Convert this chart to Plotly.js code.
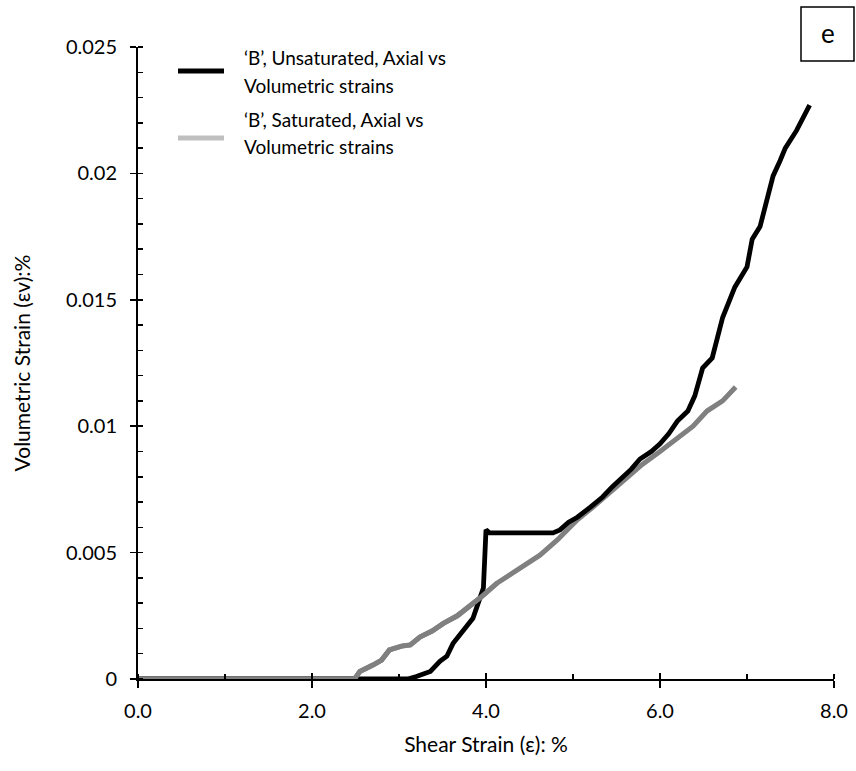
<!DOCTYPE html>
<html>
<head>
<meta charset="utf-8">
<script src="https://cdn.plot.ly/plotly-3.0.1.min.js"></script>
<style>html,body{margin:0;padding:0;background:#fff;}#chart{width:856px;height:771px;}</style>
</head>
<body>
<div id="chart"></div>
<script>
// Unsaturated 'B' (black)
const unsatX = [0, 3.1, 3.2, 3.3, 3.36, 3.47, 3.55, 3.62, 3.74, 3.85, 3.93, 3.97, 4.0, 4.04, 4.77, 4.85, 4.95, 5.05, 5.2, 5.34, 5.45, 5.57, 5.67, 5.77, 5.9, 6.0, 6.1, 6.2, 6.32, 6.4, 6.49, 6.6, 6.72, 6.86, 7.0, 7.06, 7.15, 7.24, 7.3, 7.38, 7.44, 7.57, 7.72];
const unsatY = [0, 0, 0.0001, 0.00025, 0.0003, 0.0007, 0.0009, 0.0014, 0.0019, 0.0024, 0.0032, 0.0036, 0.0059, 0.00578, 0.00578, 0.0059, 0.0062, 0.0064, 0.0068, 0.0072, 0.0076, 0.0080, 0.0083, 0.0087, 0.0090, 0.0093, 0.0097, 0.0102, 0.0106, 0.0112, 0.0123, 0.0127, 0.0143, 0.0155, 0.0163, 0.0174, 0.0179, 0.0191, 0.0199, 0.0205, 0.0210, 0.0217, 0.0227];
// Saturated 'B' (grey)
const satX = [0, 2.49, 2.55, 2.62, 2.70, 2.80, 2.84, 2.89, 3.03, 3.13, 3.24, 3.38, 3.51, 3.67, 3.78, 3.93, 4.13, 4.31, 4.47, 4.62, 4.82, 5.05, 5.23, 5.43, 5.62, 5.80, 6.0, 6.2, 6.38, 6.54, 6.72, 6.87];
const satY = [0, 0, 0.0003, 0.0004, 0.00055, 0.00075, 0.0009, 0.00115, 0.0013, 0.00135, 0.00166, 0.0019, 0.0022, 0.0025, 0.0028, 0.0032, 0.0038, 0.0042, 0.0046, 0.0049, 0.0055, 0.0063, 0.0068, 0.0074, 0.0080, 0.0085, 0.0090, 0.0095, 0.0100, 0.0106, 0.0110, 0.01155];

const xTickVals = [0, 2, 4, 6, 8];
const xTickText = ['0.0', '2.0', '4.0', '6.0', '8.0'];
const yTickVals = [0, 0.005, 0.01, 0.015, 0.02, 0.025];
const yTickText = ['0', '0.005', '0.01', '0.015', '0.02', '0.025'];

const legendLines = [
  ["\u2018B\u2019, Unsaturated, Axial vs", "Volumetric strains"],
  ["\u2018B\u2019, Saturated, Axial vs", "Volumetric strains"]
];
const legendColors = ['#000000', '#bfbfbf'];

const FONT = 'Lato, "Open Sans", sans-serif';
const FS = 19;
const TFS = 20;
const TITLEFS = 21;

const traces = [
  {x: satX, y: satY, mode: 'lines', line: {color: '#808080', width: 5}, showlegend: false, hoverinfo: 'skip'},
  {x: unsatX, y: unsatY, mode: 'lines', line: {color: '#000000', width: 4.8}, showlegend: false, hoverinfo: 'skip'},
  {x: satX.slice(0, 17), y: satY.slice(0, 17), mode: 'lines', line: {color: '#808080', width: 5}, showlegend: false, hoverinfo: 'skip'},
  {x: [null], y: [null], xaxis: 'x2', yaxis: 'y2', mode: 'lines', showlegend: false, hoverinfo: 'skip'}
];

const ml = 138, mr = 22, mt = 47, mb = 92;
const W = 856, H = 771;
const pw = W - ml - mr, ph = H - mt - mb;
function px(xp) { return (xp - ml) / pw; }
function py(yp) { return (H - mb - yp) / ph; }

const annotations = [];
const shapes = [];
const entryY = [[58, 85], [120, 147]];
const sampleY = [71, 138];
for (let i = 0; i < 2; i++) {
  for (let j = 0; j < 2; j++) {
    annotations.push({xref: 'paper', yref: 'paper', x: px(242), y: py(entryY[i][j]), xanchor: 'left', yanchor: 'middle',
      text: legendLines[i][j], showarrow: false, font: {family: FONT, size: FS, color: '#000'}});
  }
  shapes.push({type: 'line', xref: 'paper', yref: 'paper', x0: px(178), x1: px(224), y0: py(sampleY[i]), y1: py(sampleY[i]),
    line: {color: legendColors[i], width: 5}});
}
// panel label box
shapes.push({type: 'rect', xref: 'paper', yref: 'paper', x0: px(801), x1: px(854), y0: py(61), y1: py(7), line: {color: '#000', width: 1.5}, fillcolor: 'rgba(0,0,0,0)'});
annotations.push({xref: 'paper', yref: 'paper', x: px(827.5), y: py(33), xanchor: 'center', yanchor: 'middle', text: 'e', showarrow: false, font: {family: FONT, size: 26, color: '#000'}});

const layout = {
  width: W, height: H,
  margin: {l: ml, r: mr, t: mt, b: mb, pad: 0},
  paper_bgcolor: '#fff', plot_bgcolor: '#fff',
  showlegend: false,
  font: {family: FONT, size: FS, color: '#000'},
  xaxis: {
    range: [0, 8], tickvals: xTickVals, ticktext: xTickText,
    showgrid: false, zeroline: false, showline: true, linecolor: '#000', linewidth: 2,
    ticks: 'outside', ticklen: 7, tickwidth: 1.5, tickcolor: '#000',
    minor: {dtick: 1, ticks: 'inside', ticklen: 5, tickwidth: 1.5, tickcolor: '#000', showgrid: false},
    tickfont: {family: FONT, size: TFS, color: '#000'},
    ticklabelstandoff: 6,
    title: {text: 'Shear Strain (\u03b5): %', font: {family: FONT, size: TITLEFS, color: '#000'}, standoff: 16},
    automargin: false
  },
  yaxis: {
    range: [0, 0.025], tickvals: yTickVals, ticktext: yTickText,
    showgrid: false, zeroline: false, showline: true, linecolor: '#000', linewidth: 2,
    ticks: 'outside', ticklen: 6, tickwidth: 1.5, tickcolor: '#000',
    minor: {dtick: 0.001, ticks: 'inside', ticklen: 5, tickwidth: 1.5, tickcolor: '#000', showgrid: false},
    tickfont: {family: FONT, size: TFS, color: '#000'},
    ticklabelstandoff: 9,
    title: {text: 'Volumetric Strain (\u03b5v):%', font: {family: FONT, size: TITLEFS, color: '#000'}, standoff: 30},
    automargin: false
  },
  xaxis2: {overlaying: 'x', range: [0, 8], tickvals: xTickVals, showticklabels: false, ticks: 'inside', ticklen: 6, tickwidth: 1.5, tickcolor: '#000', showline: false, showgrid: false, zeroline: false},
  yaxis2: {overlaying: 'y', range: [0, 0.025], tickvals: yTickVals, showticklabels: false, ticks: 'inside', ticklen: 5, tickwidth: 1.5, tickcolor: '#000', showline: false, showgrid: false, zeroline: false},
  annotations: annotations,
  shapes: shapes
};

Plotly.newPlot('chart', traces, layout, {staticPlot: true, displayModeBar: false});
</script>
</body>
</html>
